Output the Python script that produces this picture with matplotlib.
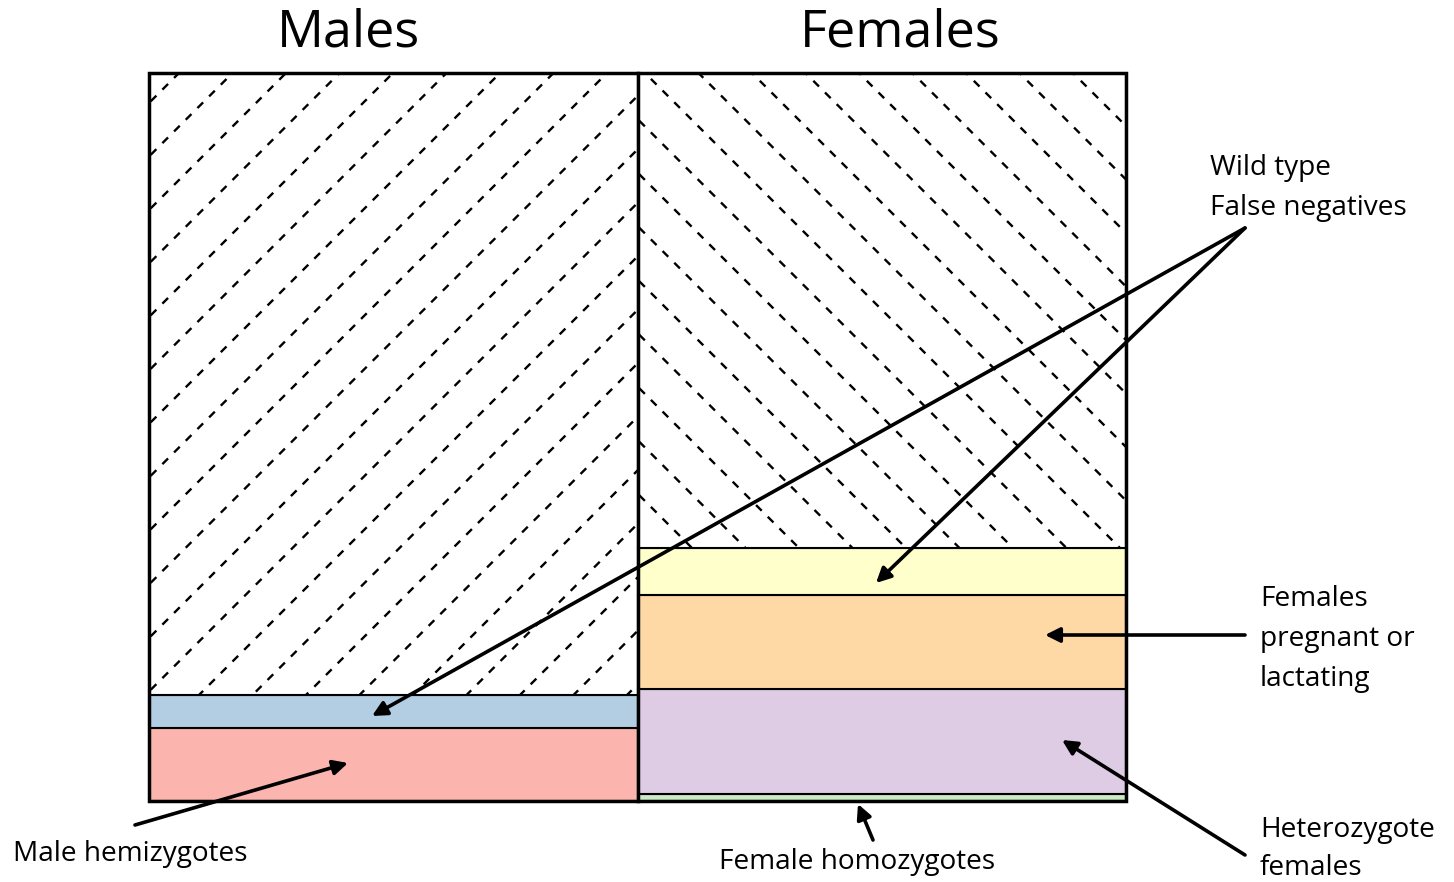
import matplotlib
matplotlib.use("Agg")
import matplotlib.pyplot as plt
import numpy as np
from matplotlib.patches import Rectangle, FancyArrowPatch

# ---- data (percent of each sex column, bottom to top) ----
groups = ["Males", "Females"]
male_labels = ["Male hemizygotes", "Wild type False negatives", "Wild type"]
male_values = [10.0, 4.5, 85.5]
female_labels = ["Female homozygotes", "Heterozygote females",
                 "Females pregnant or lactating", "Wild type False negatives", "Wild type"]
female_values = [1.0, 14.4, 12.9, 6.5, 65.2]

male_colors = ["#FBB4AE", "#B3CDE3", "white"]
female_colors = ["#CCEBC5", "#DECBE4", "#FED9A6", "#FFFFCC", "white"]

W, H = 1454, 882
fig = plt.figure(figsize=(W / 100, H / 100), dpi=100)
L, R, T, B = 149, 1126, 73, 801
ax = fig.add_axes([L / W, 1 - B / H, (R - L) / W, (B - T) / H])
ax.set_xlim(0, 2)
ax.set_ylim(0, 100)
ax.axis("off")

font = ["Open Sans", "DejaVu Sans"]


def px2data(px, py):
    return (np.asarray(px) - L) / (R - L) * 2.0, (B - np.asarray(py)) / (B - T) * 100.0


def draw_column(xc, values, colors, hatch_dir, phase_px):
    bottoms = np.concatenate([[0], np.cumsum(values)[:-1]])
    ax.bar([xc] * len(values), values, width=1.0, bottom=bottoms,
           color=colors, edgecolor="black", linewidth=1.5, zorder=2)
    x0, y0 = xc - 0.5, bottoms[-1]
    clip = Rectangle((x0, y0), 1.0, 100 - y0, transform=ax.transData,
                     facecolor="none", edgecolor="none")
    ax.add_patch(clip)
    # dashed 45-degree hatch lines, spacing 53.5 px, defined in pixel space
    left_px = L + (x0) * (R - L) / 2.0
    spacing = 53.5
    for k in range(-20, 30):
        yl = phase_px + k * spacing  # y pixel where line meets left edge
        pxs = np.array([left_px - 10, left_px + 600])
        if hatch_dir == "/":
            pys = yl - (pxs - left_px)
        else:
            pys = yl + (pxs - left_px)
        dx, dy = px2data(pxs, pys)
        ln, = ax.plot(dx, dy, color="black", lw=1.7,
                      linestyle=(0, (3.4, 3.6)), zorder=3)
        ln.set_clip_path(clip)


draw_column(0.5, male_values, male_colors, "/", 103)
draw_column(1.5, female_values, female_colors, "\\", 333)

# outer frame and divider
ax.add_patch(Rectangle((0, 0), 2, 100, fill=False, edgecolor="black",
                       linewidth=2.5, zorder=5, clip_on=False))
ax.plot([1, 1], [0, 100], color="black", lw=2.5, zorder=5, clip_on=False)


def P(x, y):
    return (x / W, 1 - y / H)


# titles
for xp, g in zip([349, 900], groups):
    fig.text(*P(xp, 33), g, ha="center", va="center", fontsize=37.5, family=font)

aprops = dict(arrowstyle="-|>", color="black", lw=2.6, mutation_scale=22,
              shrinkA=0, shrinkB=0)


def arrow(start, end):
    fig.add_artist(FancyArrowPatch(P(*start), P(*end), transform=fig.transFigure,
                                   zorder=10, **aprops))


fs = 20.2
fig.text(*P(1210, 188), "Wild type\nFalse negatives", ha="left", va="center",
         fontsize=fs, family=font, linespacing=1.57)
arrow((1245, 228), (372, 716))
arrow((1245, 228), (876, 583))

fig.text(*P(1260, 639), "Females\npregnant or\nlactating", ha="left", va="center",
         fontsize=fs, family=font, linespacing=1.57)
arrow((1245, 635), (1045, 635))

fig.text(*P(1260, 849), "Heterozygote\nfemales", ha="left", va="center",
         fontsize=fs, family=font, linespacing=1.52)
arrow((1245, 855), (1062, 740))

fig.text(*P(13, 854), "Male hemizygotes", ha="left", va="center",
         fontsize=fs, family=font)
arrow((135, 825), (348, 763))

fig.text(*P(857, 862), "Female homozygotes", ha="center", va="center",
         fontsize=fs, family=font)
arrow((873, 840), (858, 804))

fig.savefig("out.png", dpi=100)
